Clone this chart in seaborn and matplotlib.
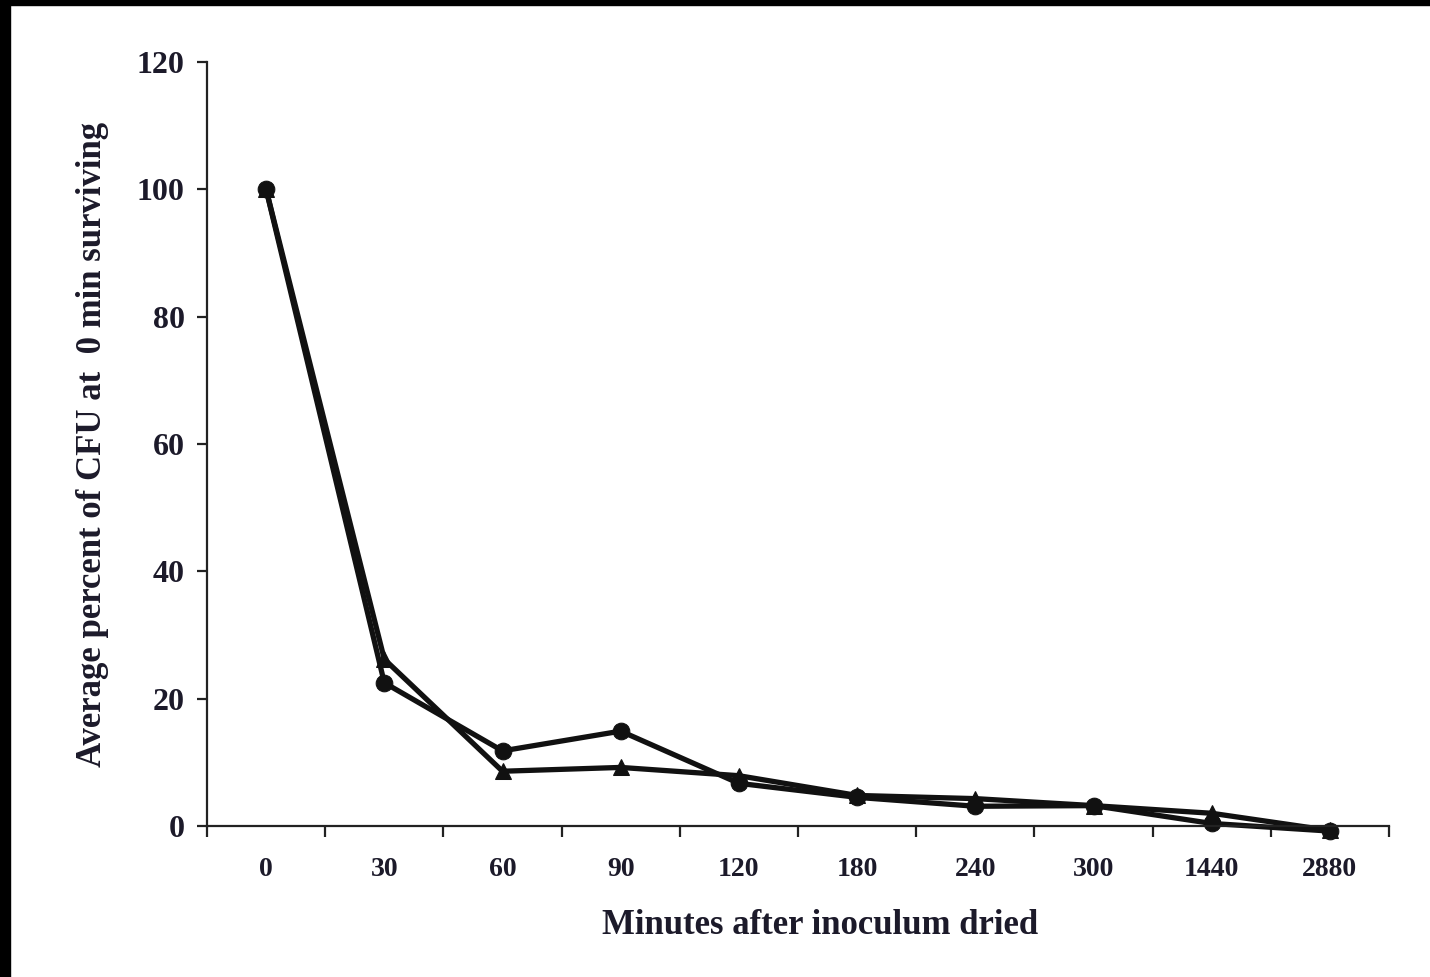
import matplotlib
matplotlib.use("Agg")
import matplotlib.pyplot as plt
from matplotlib.patches import Rectangle
import seaborn as sns
import pandas as pd
import numpy as np

categories = ["0", "30", "60", "90", "120", "180", "240", "300", "1440", "2880"]
circle_series = [100, 22.5, 11.8, 14.9, 6.7, 4.5, 3.1, 3.2, 0.4, -0.8]
triangle_series = [100, 26.2, 8.6, 9.2, 7.9, 4.8, 4.3, 3.2, 2.0, -0.7]
series_names = ["circle", "triangle"]
y_ticks = [0, 20, 40, 60, 80, 100, 120]

sns.set_style("white")
plt.rcParams['font.family'] = ['Liberation Serif', 'DejaVu Serif']

rows = []
for i, c in enumerate(categories):
    rows.append({"pos": i, "minutes": c, "value": circle_series[i], "series": series_names[0]})
    rows.append({"pos": i, "minutes": c, "value": triangle_series[i], "series": series_names[1]})
df = pd.DataFrame(rows)

W, H = 1430, 977
fig = plt.figure(figsize=(W / 100, H / 100), dpi=100)
fig.patch.set_facecolor("white")
# black frame edges of the scanned image
fig.patches.append(Rectangle((0, 1 - 5 / H), 1, 5 / H, transform=fig.transFigure, color="black", zorder=0))
fig.patches.append(Rectangle((0, 0), 10 / W, 1, transform=fig.transFigure, color="black", zorder=0))

ax = fig.add_axes([207 / W, 1 - 826 / H, (1389 - 207) / W, (826 - 62) / H])

text_color = "#1c1a2a"
sns.lineplot(data=df, x="pos", y="value", hue="series", style="series",
             markers={"circle": "o", "triangle": "^"}, dashes=False,
             palette={"circle": "#111111", "triangle": "#111111"},
             linewidth=3.8, markersize=12, markeredgecolor="#111111",
             legend=False, ax=ax, clip_on=False)
for line in ax.lines:
    line.set_clip_on(False)

ax.set_xlim(-0.5, len(categories) - 0.5)
ax.set_ylim(0, 120)
ax.set_yticks(y_ticks)
ax.set_yticklabels([str(t) for t in y_ticks])
ax.set_xticks(np.arange(len(categories)))
ax.set_xticklabels(categories)
ax.set_xticks(np.arange(-0.5, len(categories)), minor=True)

for s in ["top", "right"]:
    ax.spines[s].set_visible(False)
for s in ["left", "bottom"]:
    ax.spines[s].set_linewidth(1.6)
    ax.spines[s].set_color("#222222")

ax.tick_params(axis="y", which="major", direction="out", length=7, width=1.6,
               color="#222222", left=True, labelsize=23, labelcolor=text_color, pad=9)
ax.tick_params(axis="x", which="major", length=0, labelsize=20, labelcolor=text_color, pad=22)
ax.tick_params(axis="x", which="minor", direction="out", length=8, width=1.6,
               color="#222222", bottom=True)
for lab in ax.get_xticklabels() + ax.get_yticklabels():
    lab.set_fontweight("bold")

ax.set_xlabel("Minutes after inoculum dried", fontsize=25, fontweight="bold",
              color=text_color, labelpad=18)
ax.xaxis.set_label_coords(0.519, -0.13)
ax.xaxis.label.set_verticalalignment("center")
ax.set_ylabel("Average percent of CFU at  0 min surviving", fontsize=25,
              fontweight="bold", color=text_color, labelpad=20)

fig.savefig("out.png", dpi=100, facecolor=fig.get_facecolor())
